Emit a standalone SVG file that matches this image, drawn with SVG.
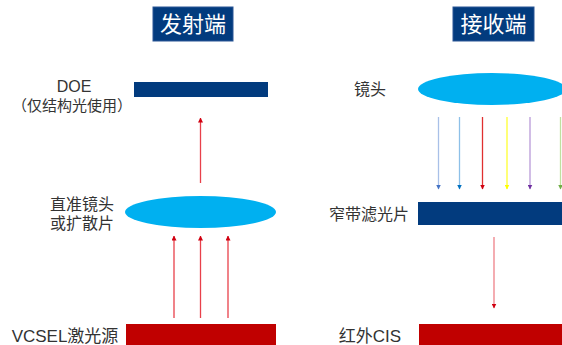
<svg xmlns="http://www.w3.org/2000/svg" width="562" height="345" viewBox="0 0 562 345">
<style>
.hdr{fill:#023B7E;stroke:#2A5696;stroke-width:1}
.hdrt{font-family:"Noto Sans CJK SC","Noto Sans",sans-serif;font-size:22px;fill:#fff;text-anchor:middle}
.lbl{font-family:"Liberation Sans","Noto Sans CJK SC",sans-serif;font-size:16px;fill:#333;text-anchor:middle}
.navy{fill:#023B7E}
.lens{fill:#00B0F0}
.red{fill:#C00000}
.ar{stroke-width:1.3;fill:none}
</style>
<defs>
<marker id="mr" viewBox="0 0 10 10" refX="9" refY="5" markerWidth="5" markerHeight="5" orient="auto" markerUnits="userSpaceOnUse"><path d="M0,0L10,5L0,10z" fill="#D00010"/></marker>
<marker id="m1" viewBox="0 0 10 10" refX="9" refY="5" markerWidth="5" markerHeight="5" orient="auto" markerUnits="userSpaceOnUse"><path d="M0,0L10,5L0,10z" fill="#4472C4"/></marker>
<marker id="m2" viewBox="0 0 10 10" refX="9" refY="5" markerWidth="5" markerHeight="5" orient="auto" markerUnits="userSpaceOnUse"><path d="M0,0L10,5L0,10z" fill="#0070C0"/></marker>
<marker id="m4" viewBox="0 0 10 10" refX="9" refY="5" markerWidth="5" markerHeight="5" orient="auto" markerUnits="userSpaceOnUse"><path d="M0,0L10,5L0,10z" fill="#FFFF00"/></marker>
<marker id="m5" viewBox="0 0 10 10" refX="9" refY="5" markerWidth="5" markerHeight="5" orient="auto" markerUnits="userSpaceOnUse"><path d="M0,0L10,5L0,10z" fill="#7030A0"/></marker>
<marker id="m6" viewBox="0 0 10 10" refX="9" refY="5" markerWidth="5" markerHeight="5" orient="auto" markerUnits="userSpaceOnUse"><path d="M0,0L10,5L0,10z" fill="#70AD47"/></marker>
</defs>
<g id="hdr-tx"><rect class="hdr" x="153" y="7" width="80" height="34"/><text class="hdrt" x="193" y="32">发射端</text></g>
<g id="hdr-rx"><rect class="hdr" x="453" y="7" width="81" height="34"/><text class="hdrt" x="493.5" y="32">接收端</text></g>
<g id="doe"><rect class="navy" x="134" y="82" width="134" height="15"/><text class="lbl" x="74" y="92">DOE</text><text class="lbl" x="72" y="111" style="font-size:15px">（仅结构光使用）</text></g>
<g id="collimator"><ellipse class="lens" cx="200.5" cy="212" rx="75.5" ry="16"/><text class="lbl" x="82" y="210">直准镜头</text><text class="lbl" x="82" y="229">或扩散片</text></g>
<g id="vcsel"><rect class="red" x="126" y="324" width="150" height="22"/><text class="lbl" x="65" y="342" style="font-size:17px">VCSEL激光源</text></g>
<g id="rx-lens"><ellipse class="lens" cx="492" cy="89" rx="74" ry="16"/><text class="lbl" x="370" y="95">镜头</text></g>
<g id="filter"><rect class="navy" x="418" y="202" width="145" height="23"/><text class="lbl" x="369" y="220">窄带滤光片</text></g>
<g id="cis"><rect class="red" x="419" y="324" width="144" height="22"/><text class="lbl" x="370" y="342" style="font-size:17px">红外CIS</text></g>
<g id="connectors">
<line class="ar" x1="200.5" y1="183" x2="200.5" y2="118" stroke="#E8404A" marker-end="url(#mr)"/>
<line class="ar" x1="174" y1="318" x2="174" y2="236" stroke="#E8404A" marker-end="url(#mr)"/>
<line class="ar" x1="200.5" y1="318" x2="200.5" y2="236" stroke="#E8404A" marker-end="url(#mr)"/>
<line class="ar" x1="228" y1="318" x2="228" y2="236" stroke="#E8404A" marker-end="url(#mr)"/>
<line class="ar" x1="438.5" y1="117" x2="438.5" y2="189" stroke="#A9C0E8" marker-end="url(#m1)"/>
<line class="ar" x1="459.5" y1="117" x2="459.5" y2="189" stroke="#8DC0E8" marker-end="url(#m2)"/>
<line class="ar" x1="482.5" y1="117" x2="482.5" y2="189" stroke="#E03030" marker-end="url(#mr)"/>
<line class="ar" x1="507" y1="117" x2="507" y2="189" stroke="#FFFF30" marker-end="url(#m4)"/>
<line class="ar" x1="530" y1="117" x2="530" y2="189" stroke="#B89AD8" marker-end="url(#m5)"/>
<line class="ar" x1="560.5" y1="117" x2="560.5" y2="189" stroke="#C0E0A0" marker-end="url(#m6)"/>
<line class="ar" x1="494" y1="237" x2="494" y2="308" stroke="#EE8088" marker-end="url(#mr)"/>
</g>
</svg>
